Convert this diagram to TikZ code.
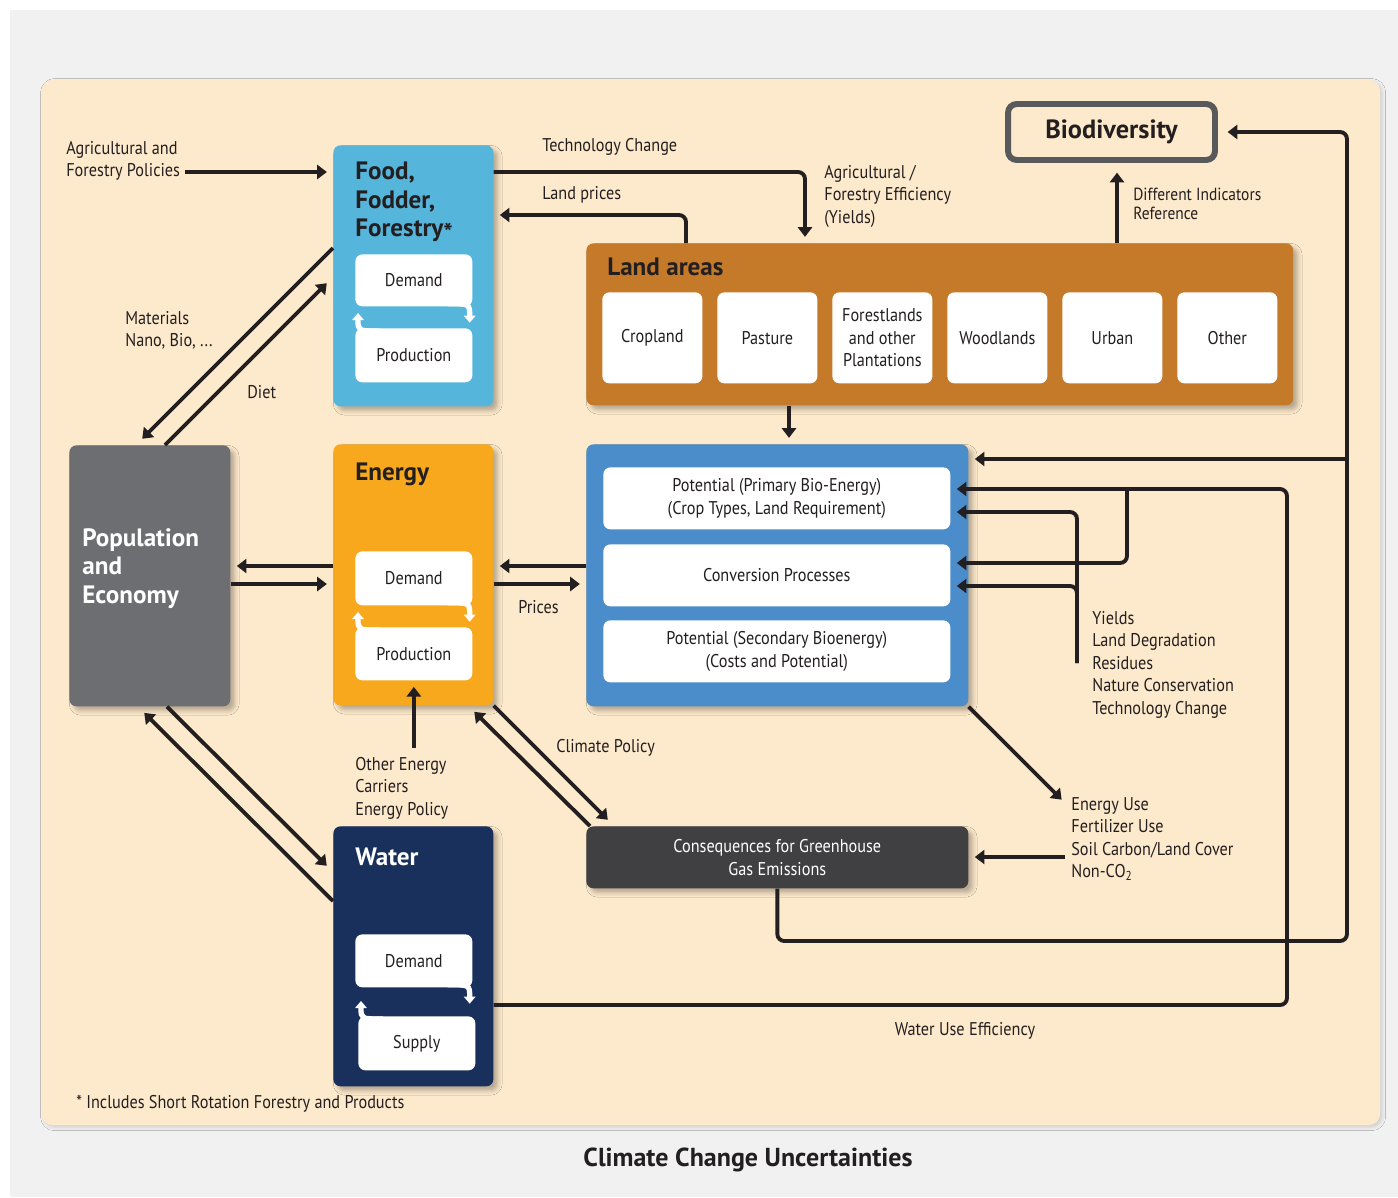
\documentclass[tikz,border=0pt]{standalone}
\usepackage{fontspec}
\setmainfont{PT Sans}[FakeStretch=0.88, BoldFeatures={FakeStretch=1}]
\usetikzlibrary{arrows.meta,calc,shadows.blur}

\definecolor{bggray}{HTML}{F1F1F2}
\definecolor{cream}{HTML}{FDE9CB}
\definecolor{foodblue}{HTML}{56B5DA}
\definecolor{energyorange}{HTML}{F8A81D}
\definecolor{waternavy}{HTML}{18305B}
\definecolor{popgray}{HTML}{6D6E72}
\definecolor{landbrown}{HTML}{C47A29}
\definecolor{bioblue}{HTML}{4A8DCA}
\definecolor{ghggray}{HTML}{404042}
\definecolor{framegray}{HTML}{58595B}
\definecolor{ink}{HTML}{231F20}

\begin{document}
\begin{tikzpicture}[
        x=0.02cm, y=-0.02cm, font=\fontsize{10.5}{12.8}\selectfont, text=ink,
        panel/.style={rectangle, rounded corners=4pt, anchor=north west, inner sep=0pt, align=center,
            blur shadow={shadow xshift=2.5pt, shadow yshift=-2.5pt, shadow blur radius=2.5pt, shadow opacity=28}},
        inbox/.style={rectangle, rounded corners=4pt, fill=white, anchor=north west, inner sep=0pt, align=center},
        ttl/.style={font=\fontsize{14.3}{16.2}\selectfont\bfseries, anchor=north west, inner sep=0pt, align=left},
        lbl/.style={anchor=north west, inner sep=0pt, align=left},
        conn/.style={draw=ink, line width=2.2pt, -{Triangle[length=5.5pt,width=8pt]}, shorten >=3.5pt},
        diag/.style={shorten >=5pt},
        rc/.style={rounded corners=4pt},
        cycarrow/.style={draw=white, line width=3pt, -{Triangle[length=4pt,width=6.5pt]}}
    ]
        \useasboundingbox (0,0) rectangle (1398,1197);
        \fill[white] (0,0) rectangle (1398,1197);
        \fill[bggray] (10,10) rectangle (1398,1197);
        \fill[cream, rounded corners=6pt, blur shadow={shadow xshift=1.2pt, shadow yshift=-1.2pt, shadow blur radius=2pt, shadow opacity=15}] (42,80) rectangle (1380,1125);

        % sector boxes
        \node[panel, fill=foodblue, minimum width=3.2cm, minimum height=5.22cm] (food) at (333,145) {};
        \node[ttl] (foodttl) at (355,162) {Food,\\Fodder,\\Forestry\raisebox{-0.35ex}{*}};
        \node[inbox, minimum width=2.34cm, minimum height=1.04cm] (fdem) at (355,254) {Demand};
        \node[inbox, minimum width=2.34cm, minimum height=1.08cm] (fprod) at (355,328) {Production};

        \node[panel, fill=energyorange, minimum width=3.2cm, minimum height=5.22cm] (energy) at (333,444) {};
        \node[ttl] (energyttl) at (355,463) {Energy};
        \node[inbox, minimum width=2.34cm, minimum height=1.08cm] (edem) at (355,551) {Demand};
        \node[inbox, minimum width=2.34cm, minimum height=1.06cm] (eprod) at (355,627) {Production};

        \node[panel, fill=waternavy, minimum width=3.2cm, minimum height=5.2cm] (water) at (333,826) {};
        \node[ttl, text=white] (waterttl) at (355,848) {Water};
        \node[inbox, minimum width=2.34cm, minimum height=1.06cm] (wdem) at (355,934) {Demand};
        \node[inbox, minimum width=2.34cm, minimum height=1.08cm] (wsup) at (358,1016) {Supply};

        \node[panel, fill=popgray, minimum width=3.22cm, minimum height=5.22cm] (pop) at (69,445) {};
        \node[ttl, text=white] (popttl) at (82,528) {Population\\and\\Economy};

        % land areas
        \node[panel, fill=landbrown, minimum width=14.14cm, minimum height=3.24cm] (land) at (586,243) {};
        \node[ttl] (landttl) at (607,258) {Land areas};
        \node[inbox, minimum width=2cm, minimum height=1.82cm] (crop) at (602,292) {Cropland};
        \node[inbox, minimum width=2cm, minimum height=1.82cm] (past) at (717,292) {Pasture};
        \node[inbox, minimum width=2cm, minimum height=1.82cm] (forest) at (832,292) {Forestlands\\and other\\Plantations};
        \node[inbox, minimum width=2cm, minimum height=1.82cm] (wood) at (947,292) {Woodlands};
        \node[inbox, minimum width=2cm, minimum height=1.82cm] (urban) at (1062,292) {Urban};
        \node[inbox, minimum width=2cm, minimum height=1.82cm] (other) at (1177,292) {Other};

        % bio-energy
        \node[panel, fill=bioblue, minimum width=7.64cm, minimum height=5.24cm] (bio) at (586,444) {};
        \node[inbox, minimum width=6.94cm, minimum height=1.24cm] (pot1) at (603,467) {Potential (Primary Bio-Energy)\\(Crop Types, Land Requirement)};
        \node[inbox, minimum width=6.94cm, minimum height=1.24cm] (conv) at (603,544) {Conversion Processes};
        \node[inbox, minimum width=6.94cm, minimum height=1.24cm] (pot2) at (603,620) {Potential (Secondary Bioenergy)\\(Costs and Potential)};

        \node[panel, fill=ghggray, text=white, minimum width=7.64cm, minimum height=1.24cm] (cons) at (586,826) {Consequences for Greenhouse\\Gas Emissions};

        \node[draw=framegray, line width=3.4pt, rounded corners=5pt, fill=cream, minimum width=4.14cm, minimum height=1.12cm,
            font=\fontsize{15}{18}\selectfont\bfseries] (biod) at (1111.5,132) {Biodiversity};

        % labels
        \node[lbl] (agpol) at (66,141) {Agricultural and\\Forestry Policies};
        \node[lbl, anchor=west] (techlbl) at (542,147) {Technology Change};
        \node[lbl, anchor=west] (pricelbl) at (542,195) {Land prices};
        \node[lbl] (efflbl) at (824,165) {Agricultural /\\Forestry Efficiency\\(Yields)};
        \node[lbl, font=\fontsize{10}{10.8}\selectfont] (indlbl) at (1133,188) {Different Indicators\\Reference};
        \node[lbl] (matlbl) at (125,311) {Materials\\Nano, Bio, ...};
        \node[lbl, anchor=west] (dietlbl) at (247,392) {Diet};
        \node[lbl, anchor=west] (prlbl) at (518,607) {Prices};
        \node[lbl] (oelbl) at (355,757) {Other Energy\\Carriers\\Energy Policy};
        \node[lbl, anchor=west] (climlbl) at (556,748) {Climate Policy};
        \node[lbl] (yldlbl) at (1092,611) {Yields\\Land Degradation\\Residues\\Nature Conservation\\Technology Change};
        \node[lbl] (emislbl) at (1071,797) {Energy Use\\Fertilizer Use\\Soil Carbon/Land Cover\\Non-CO\textsubscript{2}};
        \node (wuelbl) at (965,1031) {Water Use Efficiency};
        \node[lbl, anchor=west] (footlbl) at (76,1104) {* Includes Short Rotation Forestry and Products};
        \node[font=\fontsize{14.8}{18}\selectfont\bfseries] (title) at (748,1160) {Climate Change Uncertainties};

        % demand / production cycles
        \draw[cycarrow] ($(fdem.south east)+(-25,-3)$) .. controls ($(fdem.south east)+(-3,-3)$) .. ($(fdem.south east)+(-3,16)$);
        \draw[cycarrow] ($(fprod.north west)+(25,3)$) .. controls ($(fprod.north west)+(3,3)$) .. ($(fprod.north west)+(3,-15)$);
        \draw[cycarrow] ($(edem.south east)+(-25,-3)$) .. controls ($(edem.south east)+(-3,-3)$) .. ($(edem.south east)+(-3,16)$);
        \draw[cycarrow] ($(eprod.north west)+(25,3)$) .. controls ($(eprod.north west)+(3,3)$) .. ($(eprod.north west)+(3,-15)$);
        \draw[cycarrow] ($(wdem.south east)+(-25,-3)$) .. controls ($(wdem.south east)+(-3,-3)$) .. ($(wdem.south east)+(-3,16)$);
        \draw[cycarrow] ($(wsup.north west)+(25,3)$) .. controls ($(wsup.north west)+(3,3)$) .. ($(wsup.north west)+(3,-15)$);

        % connectors
        \coordinate (apy) at (185,172);
        \draw[conn] (apy) -- (apy -| food.west);

        \coordinate (tcx) at (805,172);
        \draw[conn, rc] (food.east |- tcx) -| (land.north -| tcx);
        \coordinate (lpx) at (686,215);
        \draw[conn, rc] (land.north -| lpx) |- (food.east |- lpx);
        \coordinate (bdx) at (1117,200);
        \draw[conn, shorten >=5.5pt] (land.north -| bdx) -- (biod.south -| bdx);

        \coordinate (rlc) at (1347,941);
        \draw[conn, rc, shorten >=5.5pt] (cons.south) |- (rlc) |- (biod.east);
        \coordinate (rbr) at (1347,459);
        \draw[conn] (rbr) -- (rbr -| bio.east);

        \coordinate (wux) at (1287,1005);
        \coordinate (wut) at (1287,489);
        \draw[conn, rc] (water.east |- wux) -| (wut) -- (wut -| pot1.east);
        \coordinate (cbr) at (1127,489);
        \coordinate (cbt) at (1127,563);
        \draw[conn, rc] (cbr) |- (conv.east |- cbt);

        \coordinate (ylb) at (1077,663);
        \coordinate (ylt) at (1077,512);
        \coordinate (ylm) at (1077,586);
        \draw[conn, rc] (ylb) |- (pot1.east |- ylt);
        \draw[conn, rc] (ylb) |- (conv.east |- ylm);

        \coordinate (euse) at (1066,804);
        \draw[conn] (bio.south east) -- (euse);
        \coordinate (ghgin) at (1065,857);
        \draw[conn] (ghgin) -- (ghgin -| cons.east);

        \coordinate (lbx) at (789,420);
        \draw[conn] (land.south -| lbx) -- (bio.north -| lbx);

        \coordinate (pra) at (540,566);
        \coordinate (prb) at (540,584);
        \draw[conn] (bio.west |- pra) -- (energy.east |- pra);
        \draw[conn] (energy.east |- prb) -- (bio.west |- prb);
        \draw[conn] (energy.west |- pra) -- (pop.east |- pra);
        \draw[conn] (pop.east |- prb) -- (energy.west |- prb);

        \coordinate (mat1) at (136,248);
        \draw[conn, diag] (food.west |- mat1) -- (pop.north -| mat1);
        \coordinate (diet1) at (165,277);
        \draw[conn, diag] (pop.north -| diet1) -- (food.west |- diet1);
        \coordinate (wt1) at (167,872);
        \draw[conn, diag] (pop.south -| wt1) -- (water.west |- wt1);
        \coordinate (wt2) at (138,901);
        \draw[conn, diag] (water.west |- wt2) -- (pop.south -| wt2);
        \coordinate (cp1) at (614,760);
        \draw[conn, diag] (energy.south east) -- (cons.north -| cp1);
        \coordinate (cp2) at (590,760);
        \coordinate (cp3) at (468,760);
        \draw[conn, diag] (cons.north -| cp2) -- (energy.south -| cp3);

        \coordinate (oeb) at (413,748);
        \draw[conn] (eprod.south |- oeb) -- (eprod.south);
    \end{tikzpicture}
\end{document}
